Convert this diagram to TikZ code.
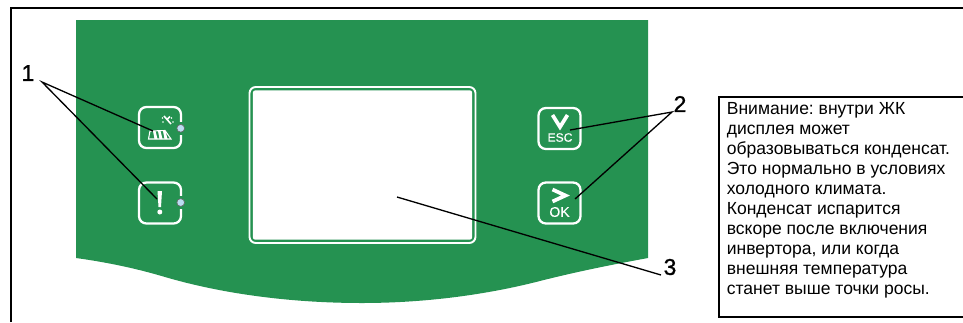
\documentclass[tikz,border=0pt]{standalone}
\usepackage{fontspec}
\setmainfont{Liberation Sans}
\newfontfamily\calloutfont[FakeBold=1.2]{Liberation Sans}
\newfontfamily\keyfont[FakeBold=0.3]{Liberation Sans}
\definecolor{panelgreen}{HTML}{259251}
\definecolor{ledblue}{HTML}{BBDDF2}
\tikzset{
  keybox/.style={draw=white, line width=1.3pt, rounded corners=4.2pt, minimum width=0.84cm, minimum height=0.82cm, inner sep=0pt},
  keytext/.style={text=white, inner sep=0pt, font=\keyfont\fontsize{6.9}{7}\selectfont},
  keyglyph/.style={white, line width=2.1pt},
  led/.style={circle, draw=black!60, fill=ledblue, line width=0.35pt, minimum size=0.155cm, inner sep=0pt},
  callout/.style={inner sep=0pt, font=\calloutfont\fontsize{13}{13}\selectfont},
  leader/.style={black, line width=0.75pt},
  frameline/.style={black, line width=1.1pt},
}
\begin{document}
\begin{tikzpicture}[x=0.02cm, y=-0.02cm]
  \useasboundingbox (0,0) rectangle (963,322);
  % Outer frame
  \draw[frameline] (11,322) -- (11,8) -- (963,8);
  % Panel
  \fill[panelgreen] (76,20) -- (648,20) -- (648,258)
    .. controls (610,265) and (575,272) .. (536,282)
    .. controls (480,296) and (420,303) .. (362,303)
    .. controls (300,303) and (230,296) .. (165,277)
    .. controls (135,268) and (105,262) .. (76,258) -- cycle;
  % Display
  \node[draw=white, line width=1.1pt, rounded corners=3.5pt, minimum width=4.52cm, minimum height=3.12cm, inner sep=0pt] (display) at (362.5,165) {};
  \node[fill=white, rounded corners=1.5pt, minimum width=4.39cm, minimum height=2.99cm, inner sep=0pt] (screen) at (display.center) {};
  % Keys
  \node[keybox] (keysun) at (160,127.5) {};
  \node[keybox] (keyalarm) at (160,203) {};
  \node[keybox] (keyesc) at (559.5,128.5) {};
  \node[keybox] (keyok) at (559.5,203) {};
  % Gaps and lamps beside the left keys
  \fill[panelgreen] (178,122) rectangle (185,135);
  \fill[panelgreen] (178,196) rectangle (185,209);
  \node[led] (ledsun) at (180.7,128.3) {};
  \node[led] (ledalarm) at (180.7,202.5) {};
  % Sun and module icon
  \draw[white, line width=0.6pt] (150,131) -- (165,130.5) -- (171,139) -- (148.5,139) -- cycle;
  \foreach \x in {153,158,163} {
    \fill[white] (\x,131) -- ({\x+2.5},131) -- ({\x+4.5},139) -- ({\x+1.5},139) -- cycle;
  }
  \draw[white, line width=0.9pt] (164,116) -- (171,124) (170,116.5) -- (166.5,120);
  \foreach \a/\b in {162.5/118,171.5/118,163/122,173/122} {
    \fill[white] (\a,\b) circle (0.8);
  }
  % Alarm mark
  \fill[white] (157.5,191) -- (162,191) -- (161,207) -- (158.5,207) -- cycle;
  \fill[white] (159.8,212) circle (2.5);
  % Key glyphs
  \draw[keyglyph] (552.5,115) -- (560,127) -- (567.5,115);
  \node[keytext] (escname) at (560,137.5) {ESC};
  \draw[keyglyph] (552.5,189.5) -- (565.5,195.5) -- (552.5,201.5);
  \node[keytext, font=\keyfont\fontsize{8}{8}\selectfont] (okname) at (559.5,212) {OK};
  % Callouts
  \node[callout] (labelone) at (28,73) {1};
  \node[callout] (labeltwo) at (680,104) {2};
  \node[callout] (labelthree) at (670,267) {3};
  \coordinate (hubone) at (42,82);
  \coordinate (hubtwo) at (672,112);
  \coordinate (hubthree) at (661,275);
  \coordinate (tipsun) at (153,131);
  \coordinate (tipalarm) at (157,199);
  \coordinate (tipesc) at (570,130);
  \coordinate (tipok) at (575,199);
  \coordinate (tipscreen) at (397,197);
  \draw[leader] (tipsun) -- (hubone) -- (tipalarm);
  \draw[leader] (tipesc) -- (hubtwo) -- (tipok);
  \draw[leader] (tipscreen) -- (hubthree);
  % Note
  \draw[frameline] (963,97) -- (719,97) -- (719,317) -- (963,317);
  \node[anchor=north west, inner sep=0pt, align=left, font=\frenchspacing\fontsize{9.97}{11.38}\selectfont] (notetext) at (726.5,102) {Внимание: внутри ЖК\\
    дисплея может\\
    образовываться конденсат.\\
    Это нормально в условиях\\
    холодного климата.\\
    Конденсат испарится\\
    вскоре после включения\\
    инвертора, или когда\\
    внешняя температура\\
    станет выше точки росы.};
\end{tikzpicture}
\end{document}
